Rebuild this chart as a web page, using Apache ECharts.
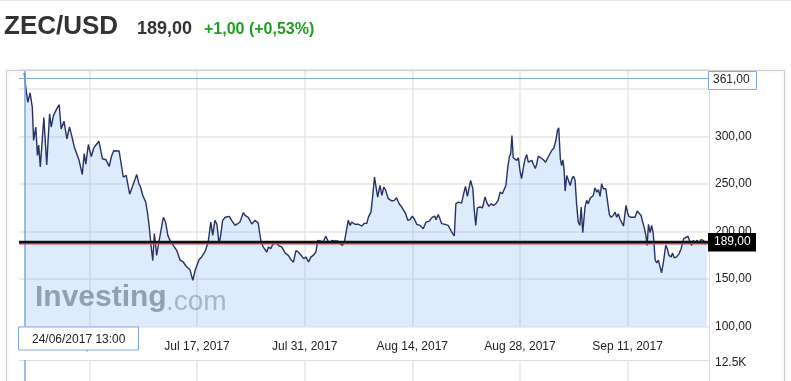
<!DOCTYPE html>
<html><head><meta charset="utf-8">
<script src="https://cdn.jsdelivr.net/npm/echarts@6/dist/echarts.min.js"></script>
<style>html,body{margin:0;padding:0;background:#fff}#c{width:791px;height:381px}</style>
</head><body><div id="c"></div>
<script>
// ---- data ----
const symbol = 'ZEC/USD';
const lastPriceText = '189,00';
const changeText = '+1,00 (+0,53%)';
const startDate = '2017-06-24T00:00:00Z';
const hoursSinceStart = [13,16,24,31,34,38,42,49,54,58,63,74,83,92,97,104,114,122,128,137,146,154,161,169,175,184,194,200,205,213,222,230,238,246,257,268,278,285,292,297,309,315,322,331,342,350,356,364,371,375,383,392,398,403,409,414,419,426,433,447,454,461,470,478,489,499,509,520,530,539,546,558,567,577,582,587,595,601,608,614,621,626,632,640,645,653,660,671,678,686,697,702,712,723,733,743,752,759,770,775,782,787,796,806,817,827,837,846,853,861,868,877,885,892,900,908,915,923,929,939,946,954,960,967,973,981,991,998,1006,1012,1024,1030,1035,1045,1056,1066,1074,1082,1087,1095,1099,1106,1110,1116,1123,1129,1135,1141,1149,1160,1168,1175,1183,1191,1197,1203,1210,1217,1224,1230,1238,1248,1258,1267,1277,1286,1294,1298,1305,1316,1326,1336,1347,1355,1360,1368,1378,1383,1390,1396,1401,1406,1413,1417,1422,1427,1435,1443,1451,1456,1463,1470,1477,1485,1492,1498,1505,1511,1516,1522,1527,1531,1535,1539,1545,1550,1555,1560,1565,1571,1576,1581,1586,1591,1597,1602,1608,1612,1617,1625,1633,1640,1649,1654,1659,1666,1672,1677,1681,1686,1690,1694,1698,1701,1706,1711,1717,1722,1727,1732,1737,1742,1747,1751,1756,1763,1768,1773,1779,1784,1789,1794,1800,1805,1810,1815,1820,1828,1834,1839,1844,1851,1857,1862,1867,1872,1878,1883,1888,1891,1896,1900,1907,1912,1919,1926,1932,1938,1943,1948,1953,1957,1961,1966,1971,1976,1982,1987,1992,1997,2002,2008,2015,2020,2025,2032,2036,2042,2049,2057,2063,2067,2071,2077,2084,2091,2096,2101,2106,2112,2119,2125,2132,2138,2143];
const prices = [367,356,336,346,347,331,296,310,280,291,268,320,270,324,310,322,329,333.5,308,316,297.6,310,301,289,287,275,260,282,271,291.6,279,288,291.6,295,276.6,275.6,268.6,279,285,286,284.7,282.6,257.4,259,239.3,247,245,260,250,247.7,238,231,219,205,184,169.5,198,175,189,215,210,196,189,185.5,180,170,168,162.7,160,148.7,159,170,173.5,178.8,177,189,210,196,211.8,208,187.3,196,211.8,215,213.5,216,211.8,206.5,208,210,220,217,215,208,211.8,209,189,183.7,178.5,183.7,182,185.5,189,185.5,183.7,177.5,175,170,168,180,178.5,175,171.5,173.3,168,173.3,175,178.5,190.8,190,189,195,190.8,187.3,190.8,190,190,187.3,185.5,189,211.8,206.5,210,207.7,207.7,205.8,208.6,208.6,215.2,220.5,232.8,257.3,248.5,236.3,248.5,238,246.8,243.3,234.6,232.2,232.8,235.6,229.3,225.8,225.8,218.8,211.8,212.5,216.3,213.5,207.6,206.5,203,210,211,215,216.3,212.5,218,208.3,207.6,206.5,199.5,195.4,229.3,231,230,238,247.5,237,238,253.8,245,224,206.5,225,225.8,225,236.3,231,226.5,229.3,227.6,229.3,232.8,241.5,239.8,238,248.5,267.7,279,281.8,301,277.7,276.6,274.9,277.7,264.3,255.6,267.9,276.6,281,273,271.4,274.9,270.8,266.4,270.8,279,277.7,275.5,273,279,277.7,285.3,288,295.8,306.3,309.1,276.6,269.5,275.5,264.3,242.6,259,260.9,248.5,255.6,258.2,254,227.8,210,206.5,225.8,198.8,225.8,232.8,229.3,235,237,238,246,241.5,244,237,250.4,245,245,244,218,215,216.9,220.4,215,218.8,213.5,215,205.8,205.8,227.6,219.6,216,215,213.5,215,221.6,219.6,216.9,210,204,196,185.5,207.6,198.8,206.5,198,170,167,170,168.3,156.6,168.3,185.5,182,175,173.3,177.5,172.3,173.3,176.8,182,183.7,192.5,190.8,195,189,185.5,190.8,187.3,190.8,188,191.5,190.8,186.6,189];
const dateTicks = ['2017-07-03','2017-07-17','2017-07-31','2017-08-14','2017-08-28','2017-09-11'];
const lastPrice = 189;
const periodHigh = 361;
const periodHighText = '361,00';
const pointerTime = '2017-06-24T13:00:00Z';
const pointerText = '24/06/2017 13:00';
const volumeMaxLabel = '12.5K';
const volumeMax = 12500;

// ---- build ----
const startMs = Date.parse(startDate);
const toHours = s => (Date.parse(s) - startMs) / 3600000;
const tickHours = dateTicks.map(d => toHours(d + 'T00:00:00Z'));
const pointerHour = toHours(pointerTime);
const MON = ['Jan','Feb','Mar','Apr','May','Jun','Jul','Aug','Sep','Oct','Nov','Dec'];
const fmtDate = h => { const d = new Date(startMs + h * 3600000); return MON[d.getUTCMonth()] + ' ' + d.getUTCDate() + ', ' + d.getUTCFullYear(); };
const n = Math.min(hoursSinceStart.length, prices.length);
const lineData = [];
for (let i = 0; i < n; i++) lineData.push([hoursSinceStart[i], prices[i]]);

const X_MIN = -3.5, X_MAX = 2150;
const FONT = '"Liberation Sans", Arial, sans-serif';
const chart = echarts.init(document.getElementById('c'), null, {renderer: 'canvas'});
const blue = '#7fa9df';
chart.setOption({
  animation: false,
  textStyle: {fontFamily: FONT},
  grid: [
    {left: 19, right: 82, top: 70, height: 256.6, outerBoundsMode: 'none', containLabel: false},
    {left: 19, right: 82, top: 360, height: 100, outerBoundsMode: 'none', containLabel: false}
  ],
  xAxis: [
    {type: 'value', gridIndex: 0, min: X_MIN, max: X_MAX,
     axisLine: {show: false}, axisTick: {show: false, customValues: tickHours},
     axisLabel: {customValues: tickHours, formatter: v => fmtDate(v), color: '#222', fontSize: 12, margin: 14, fontFamily: FONT},
     splitLine: {show: true, lineStyle: {color: '#e6e6e6', width: 1.5}}},
    {type: 'value', gridIndex: 1, min: X_MIN, max: X_MAX,
     axisLine: {show: false}, axisTick: {show: false, customValues: tickHours},
     axisLabel: {show: false, customValues: tickHours},
     splitLine: {show: true, lineStyle: {color: '#e6e6e6', width: 1.5}}}
  ],
  yAxis: [
    {type: 'value', gridIndex: 0, position: 'right', min: 100, max: 370, interval: 50,
     axisLine: {show: false}, axisTick: {show: false},
     axisLabel: {color: '#222', fontSize: 12, margin: 6, fontFamily: FONT,
       formatter: v => (v % 50 === 0 && v !== 350) ? v.toFixed(2).replace('.', ',') : ''},
     splitLine: {show: true, lineStyle: {color: '#e6e6e6', width: 1.5}}},
    {type: 'value', gridIndex: 1, position: 'right', min: 0, max: volumeMax, interval: volumeMax,
     axisLine: {show: false}, axisTick: {show: false},
     axisLabel: {color: '#222', fontSize: 12, margin: 6, fontFamily: FONT, verticalAlign: 'top', padding: [-3, 0, 0, 0],
       formatter: v => v === volumeMax ? volumeMaxLabel : ''},
     splitLine: {show: true, lineStyle: {color: '#dcdcdc', width: 1}}}
  ],
  series: [
    {type: 'line', xAxisIndex: 0, yAxisIndex: 0, data: lineData, showSymbol: false, symbol: 'none',
     lineStyle: {color: '#283163', width: 1.4},
     areaStyle: {color: 'rgba(95,160,240,0.3)', origin: 'start'},
     z: 3,
     markLine: {silent: true, symbol: 'none', animation: false, label: {show: false},
       data: [
         {yAxis: periodHigh, lineStyle: {color: blue, width: 1.2, type: 'solid'}},
         {xAxis: pointerHour, lineStyle: {color: blue, width: 1.5, type: 'solid'}},
         {yAxis: lastPrice, lineStyle: {color: '#111', width: 2.4, type: 'solid', shadowColor: '#e04040', shadowOffsetY: 1.3, shadowBlur: 0}}
       ]}},
    {type: 'line', xAxisIndex: 1, yAxisIndex: 1, data: [], symbol: 'none',
     markLine: {silent: true, symbol: 'none', animation: false, label: {show: false},
       data: [{xAxis: pointerHour, lineStyle: {color: blue, width: 1.5, type: 'solid'}}]}}
  ],
  graphic: [
    {type: 'line', shape: {x1: 0, y1: 0.5, x2: 791, y2: 0.5}, style: {stroke: '#e6e6e6', lineWidth: 1}, z: 50},
    {type: 'text', left: 4, top: 14, style: {text: symbol, font: 'bold 26px ' + FONT, fill: '#333'}, z: 50},
    {type: 'text', left: 137, top: 20, style: {text: lastPriceText, font: 'bold 18px ' + FONT, fill: '#333'}, z: 50},
    {type: 'text', left: 204, top: 22, style: {text: changeText, font: 'bold 16px ' + FONT, fill: '#1f9e1f'}, z: 50},
    {type: 'rect', shape: {x: 6.5, y: 70.5, width: 778, height: 330}, style: {fill: null, stroke: '#cfcfcf', lineWidth: 1, shadowBlur: 4, shadowColor: 'rgba(0,0,0,0.15)'}, z: 40},
    {type: 'line', shape: {x1: 709.5, y1: 70, x2: 709.5, y2: 381}, style: {stroke: '#dcdcdc', lineWidth: 1}, z: 40},
    {type: 'text', left: 35, top: 283, style: {text: 'Investing', font: 'bold 30px ' + FONT, fill: 'rgba(105,118,135,0.65)'}, z: 45},
    {type: 'text', left: 166, top: 288, style: {text: '.com', font: '28px ' + FONT, fill: 'rgba(105,118,135,0.45)'}, z: 45},
    {type: 'rect', shape: {x: 708.5, y: 71.5, width: 48, height: 18}, style: {fill: '#fff', stroke: blue, lineWidth: 1}, z: 60},
    {type: 'text', left: 713, top: 74, style: {text: periodHighText, font: '12px ' + FONT, fill: '#222'}, z: 61},
    {type: 'rect', shape: {x: 708, y: 233, width: 48, height: 18.5}, style: {fill: '#000'}, z: 60},
    {type: 'text', left: 714, top: 236, style: {text: lastPrice.toFixed(2).replace('.', ','), font: '12px ' + FONT, fill: '#fff'}, z: 61},
    {type: 'rect', shape: {x: 18.5, y: 327, width: 120, height: 23}, style: {fill: '#fff', stroke: blue, lineWidth: 1}, z: 60},
    {type: 'text', left: 32, top: 334, style: {text: pointerText, font: '12px ' + FONT, fill: '#222'}, z: 61}
  ]
});
</script></body></html>
